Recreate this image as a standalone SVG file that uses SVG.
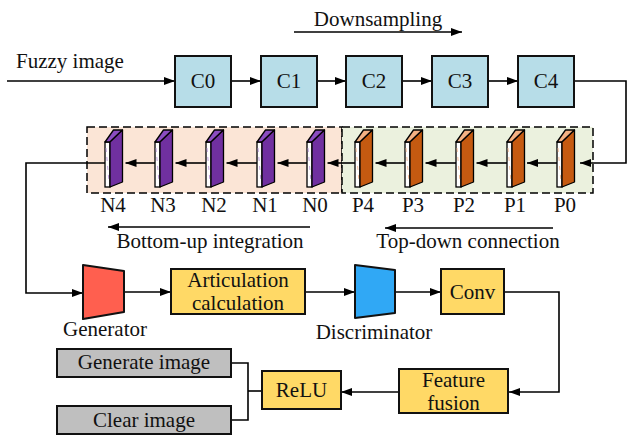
<svg xmlns="http://www.w3.org/2000/svg" width="628" height="437" viewBox="0 0 628 437" font-family="'Liberation Serif','Times New Roman',serif">
<defs>
<marker id="ah" markerWidth="11" markerHeight="8" refX="11" refY="4" orient="auto" markerUnits="userSpaceOnUse">
<path d="M0,0 L11,4 L0,8 z" fill="#000"/>
</marker>
<g id="slabN">
<rect x="0" y="142" width="5" height="45" fill="#fff" stroke="#000" stroke-width="1.3"/>
<line x1="1" y1="148" x2="4" y2="182" stroke="#B48CD8" stroke-width="0.8" stroke-dasharray="4,5"/>
<polygon points="0,142 8.5,130 17.5,130 5,142" fill="#8A4CC0" stroke="#000" stroke-width="1.3" stroke-linejoin="round"/>
<polygon points="5,142 17.5,130 17.5,182 5,187" fill="#7030A0" stroke="#000" stroke-width="1.3" stroke-linejoin="round"/>
</g>
<g id="slabP">
<rect x="0" y="142" width="5" height="45" fill="#fff" stroke="#000" stroke-width="1.3"/>
<line x1="1" y1="148" x2="4" y2="182" stroke="#F4B183" stroke-width="0.8" stroke-dasharray="4,5"/>
<polygon points="0,142 8.5,130 17.5,130 5,142" fill="#F4B183" stroke="#000" stroke-width="1.3" stroke-linejoin="round"/>
<polygon points="5,142 17.5,130 17.5,182 5,187" fill="#C55A11" stroke="#000" stroke-width="1.3" stroke-linejoin="round"/>
</g>
</defs>
<style>
text{font-family:"Liberation Serif","Times New Roman",serif;font-size:21px;fill:#111;}
.c{text-anchor:middle;}
.cbox{fill:#B7DDE8;stroke:#111;stroke-width:2;}
.ybox{fill:#FFD966;stroke:#111;stroke-width:2;}
.gbox{fill:#BFBFBF;stroke:#111;stroke-width:2;}
.ln{fill:none;stroke:#000;stroke-width:1.6;}
.arr{fill:none;stroke:#000;stroke-width:1.6;marker-end:url(#ah);}
.reg{stroke:#000;stroke-width:1.5;stroke-dasharray:8,4;}
</style>
<rect width="628" height="437" fill="#fff"/>

<g id="regions">
<rect class="reg" x="87" y="127" width="255" height="66" fill="#FBE5D6"/>
<rect class="reg" x="342" y="127" width="251" height="66" fill="#EBF1DE"/>
</g>

<g id="labels">
<text class="c" x="378" y="26">Downsampling</text>
<text x="16" y="68">Fuzzy image</text>
<text class="c" x="210" y="248">Bottom-up integration</text>
<text class="c" x="468" y="248">Top-down connection</text>
<text class="c" x="105" y="336">Generator</text>
<text class="c" x="374" y="339">Discriminator</text>
</g>

<g id="connectors">
<line class="arr" x1="294" y1="32" x2="462" y2="32"/>
<line class="arr" x1="7" y1="81" x2="175" y2="81"/>
<line class="arr" x1="231" y1="81" x2="261" y2="81"/>
<line class="arr" x1="317" y1="81" x2="346" y2="81"/>
<line class="arr" x1="402" y1="81" x2="432" y2="81"/>
<line class="arr" x1="488" y1="81" x2="518" y2="81"/>
<polyline class="arr" points="574,81 626,81 626,163 580,163"/>
<line class="arr" x1="557" y1="163" x2="527" y2="163"/>
<line class="arr" x1="507" y1="163" x2="476.5" y2="163"/>
<line class="arr" x1="456" y1="163" x2="425.5" y2="163"/>
<line class="arr" x1="405" y1="163" x2="375.5" y2="163"/>
<line class="arr" x1="355" y1="163" x2="327.5" y2="163"/>
<line class="arr" x1="307" y1="163" x2="277.5" y2="163"/>
<line class="arr" x1="257" y1="163" x2="226.5" y2="163"/>
<line class="arr" x1="206" y1="163" x2="175.5" y2="163"/>
<line class="arr" x1="155" y1="163" x2="125.5" y2="163"/>
<line class="arr" x1="310" y1="227" x2="108" y2="227"/>
<line class="arr" x1="553" y1="228" x2="385" y2="228"/>
<polyline class="arr" points="105,163 26,163 26,293 83,293"/>
<line class="arr" x1="124" y1="292" x2="171" y2="292"/>
<line class="arr" x1="305" y1="292" x2="355" y2="292"/>
<line class="arr" x1="395" y1="292" x2="441" y2="292"/>
<polyline class="arr" points="504,292 559,292 559,392 509,392"/>
<line class="arr" x1="399" y1="392" x2="341" y2="392"/>
<polyline class="ln" points="262,391 248,391"/>
<polyline class="ln" points="231,363 248,363 248,420 231,420"/>
</g>

<g id="C0"><rect class="cbox" x="175" y="56" width="56" height="51"/><text class="c" x="203" y="88">C0</text></g>
<g id="C1"><rect class="cbox" x="261" y="56" width="56" height="51"/><text class="c" x="289" y="88">C1</text></g>
<g id="C2"><rect class="cbox" x="346" y="56" width="56" height="51"/><text class="c" x="374" y="88">C2</text></g>
<g id="C3"><rect class="cbox" x="432" y="56" width="56" height="51"/><text class="c" x="460" y="88">C3</text></g>
<g id="C4"><rect class="cbox" x="518" y="56" width="56" height="51"/><text class="c" x="546" y="88">C4</text></g>

<g id="N4"><use href="#slabN" x="105"/><text class="c" x="113" y="212">N4</text></g>
<g id="N3"><use href="#slabN" x="155"/><text class="c" x="163" y="212">N3</text></g>
<g id="N2"><use href="#slabN" x="206"/><text class="c" x="214" y="212">N2</text></g>
<g id="N1"><use href="#slabN" x="257"/><text class="c" x="265" y="212">N1</text></g>
<g id="N0"><use href="#slabN" x="307"/><text class="c" x="315" y="212">N0</text></g>
<g id="P4"><use href="#slabP" x="355"/><text class="c" x="363" y="212">P4</text></g>
<g id="P3"><use href="#slabP" x="405"/><text class="c" x="413" y="212">P3</text></g>
<g id="P2"><use href="#slabP" x="456"/><text class="c" x="464" y="212">P2</text></g>
<g id="P1"><use href="#slabP" x="507"/><text class="c" x="515" y="212">P1</text></g>
<g id="P0"><use href="#slabP" x="557"/><text class="c" x="565" y="212">P0</text></g>

<g id="generator"><polygon points="83,265 124,271 124,312 83,319" fill="#FF5F4F" stroke="#111" stroke-width="2" stroke-linejoin="round"/></g>
<g id="articulation"><rect class="ybox" x="171" y="269" width="134" height="45"/><text class="c" x="238" y="287">Articulation</text><text class="c" x="238" y="310">calculation</text></g>
<g id="discriminator"><polygon points="355,265 395,270 395,313 355,318" fill="#30A8F5" stroke="#111" stroke-width="2" stroke-linejoin="round"/></g>
<g id="conv"><rect class="ybox" x="441" y="269" width="63" height="45"/><text class="c" x="472.5" y="299">Conv</text></g>
<g id="fusion"><rect class="ybox" x="399" y="369" width="109" height="44"/><text class="c" x="453.5" y="387">Feature</text><text class="c" x="453.5" y="410">fusion</text></g>
<g id="relu"><rect class="ybox" x="262" y="371" width="79" height="38"/><text class="c" x="301.5" y="397">ReLU</text></g>
<g id="generate"><rect class="gbox" x="57" y="349" width="174" height="28"/><text class="c" x="144" y="369">Generate image</text></g>
<g id="clear"><rect class="gbox" x="57" y="406" width="174" height="28"/><text class="c" x="144" y="427">Clear image</text></g>
</svg>
